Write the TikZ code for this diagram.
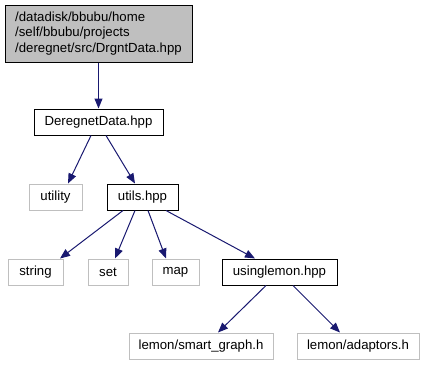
\documentclass[tikz,border=0pt]{standalone}
\usepackage{fontspec}
\setmainfont{Liberation Sans}
\usetikzlibrary{arrows.meta}
\definecolor{edgeblue}{HTML}{191970}
\definecolor{topfill}{HTML}{BFBFBF}
\definecolor{extgray}{HTML}{BFBFBF}
\tikzset{
  filebox/.style={draw=black, line width=1pt, minimum height=26pt, inner sep=0pt, font=\fontsize{13.2}{15}\selectfont},
  sysbox/.style={draw=extgray, line width=1pt, minimum height=26pt, inner sep=0pt, font=\fontsize{13.2}{15}\selectfont},
  dep/.style={draw=edgeblue, line width=1pt, -{Triangle[length=10pt,width=8pt]}, edgeblue}
}
\begin{document}
\begin{tikzpicture}[x=1pt,y=-1pt]
\useasboundingbox (0,0) rectangle (425,365);
% main header
\node[filebox, fill=topfill, minimum width=187pt, minimum height=57pt, align=left,
      font=\fontsize{13.2}{15.5}\selectfont] (top) at (98.5,33.5)
  {/datadisk/bbubu/home\\/self/bbubu/projects\\/deregnet/src/DrgntData.hpp};
% project headers
\node[filebox, minimum width=129pt] (dd) at (98.5,122) {DeregnetData.hpp};
\node[filebox, minimum width=71pt] (utils) at (142.5,197) {utils.hpp};
\node[filebox, minimum width=115pt] (ul) at (279.5,272) {usinglemon.hpp};
% system headers
\node[sysbox, minimum width=53pt] (utility) at (55.5,197) {utility};
\node[sysbox, minimum width=55pt] (string) at (35.5,272) {string};
\node[sysbox, minimum width=40pt] (set) at (108,272) {set};
\node[sysbox, minimum width=47pt] (map) at (175.5,272) {map};
\node[sysbox, minimum width=144pt] (smart) at (201,346) {lemon/smart\_graph.h};
\node[sysbox, minimum width=122pt] (adapt) at (358,346) {lemon/adaptors.h};
% include edges
\draw[dep] (top.south) -- (dd.north);
\draw[dep] ([xshift=-7.5pt]dd.south) -- ([xshift=12.5pt]utility.north);
\draw[dep] ([xshift=7.5pt]dd.south) -- ([xshift=-7.5pt]utils.north);
\draw[dep] ([xshift=-19.5pt]utils.south) -- ([xshift=24.5pt]string.north);
\draw[dep] ([xshift=-7.5pt]utils.south) -- ([xshift=7pt]set.north);
\draw[dep] ([xshift=5.5pt]utils.south) -- ([xshift=-9.5pt]map.north);
\draw[dep] ([xshift=23.5pt]utils.south) -- ([xshift=-24.5pt]ul.north);
\draw[dep] ([xshift=-13.5pt]ul.south) -- ([xshift=17pt]smart.north);
\draw[dep] ([xshift=13.5pt]ul.south) -- ([xshift=-18pt]adapt.north);
\end{tikzpicture}
\end{document}
